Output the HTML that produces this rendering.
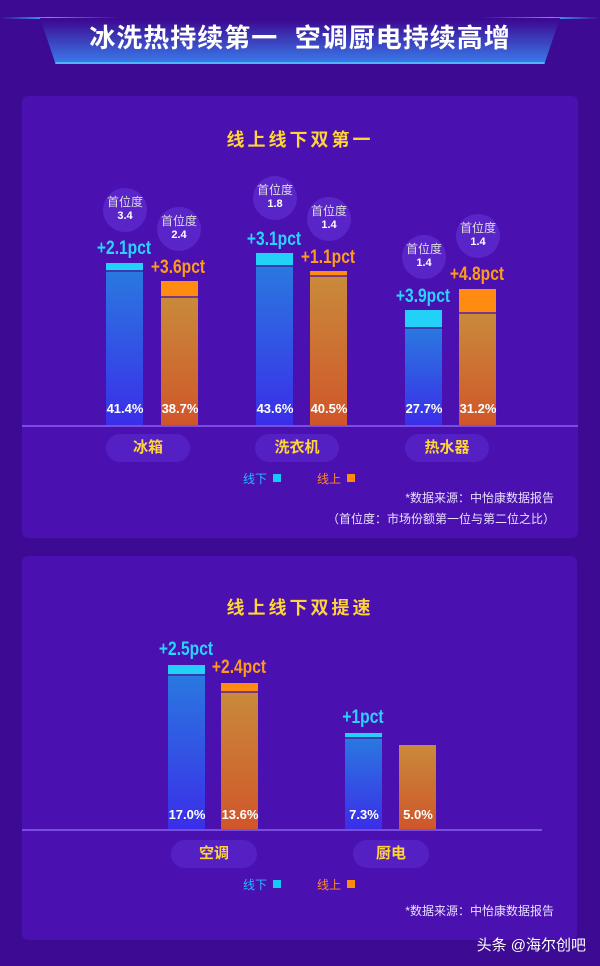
<!DOCTYPE html>
<html><head><meta charset="utf-8"><style>
*{margin:0;padding:0;box-sizing:border-box}
body{width:600px;height:966px;background:#3d0a93;position:relative;overflow:hidden;font-family:"Liberation Sans","Noto Sans CJK SC",sans-serif}
.a{position:absolute}
.card{position:absolute;background:#4a10b0;border-radius:6px}
.ttl{position:absolute;left:0;width:600px;text-align:center;color:#ffd43a;font-weight:bold;font-size:18px;letter-spacing:3px}
.bo{position:absolute;width:37px;background:linear-gradient(#2a78e0,#3a2ee8)}
.bn{position:absolute;width:37px;background:linear-gradient(#c98a3a,#d0562a)}
.co{position:absolute;width:37px;background:#22d0f8;border-bottom:2px solid #3a3ab0}
.cn{position:absolute;width:37px;background:#ff8c10;border-bottom:2px solid #7a3a80}
.v{position:absolute;width:50px;text-align:center;color:#fff;font-weight:bold;font-size:13px;letter-spacing:0}
.p{position:absolute;width:100px;text-align:center;font-weight:bold;font-size:19px;letter-spacing:0;transform:scaleX(0.82)}
.pb{color:#2ad4ff}.po{color:#ff9a1a}
.bub{position:absolute;width:44px;height:44px;border-radius:50%;background:#5a25c8;color:#ddd;font-size:12px;text-align:center;line-height:14px;padding-top:7px}
.bub b{color:#fff;font-size:11px;display:block}
.pill{position:absolute;height:28px;border-radius:14px;background:#5420c4;color:#ffd43a;font-weight:bold;font-size:15px;text-align:center;line-height:28px;width:84px}
.base{position:absolute;height:2px;background:#7a4ce0}
.lg{position:absolute;font-size:12px}
.sq{display:inline-block;width:8px;height:8px;margin-left:6px;vertical-align:1px}
.src{position:absolute;right:46px;color:#e8e0ff;font-size:12px;text-align:right}
</style></head><body>
<div class="a" style="left:0;top:17px;width:600px;height:2px;background:linear-gradient(90deg,transparent,#3aa8ff 8%,transparent 20%,transparent 80%,#3aa8ff 92%,transparent)"></div>
<div class="a" style="left:40px;top:18px;width:520px;height:46px;background:linear-gradient(#3d0a93 5%,#3a78e8);clip-path:polygon(0 0,100% 0,97% 100%,3% 100%);border-bottom:2px solid #4ab8ff"></div>
<div class="a" style="left:0;top:18px;width:600px;text-align:center;color:#fff;font-weight:bold;font-size:26px;letter-spacing:1px">冰洗热持续第一&nbsp;&nbsp;空调厨电持续高增</div>

<div class="card" style="left:22px;top:96px;width:556px;height:442px"></div>
<div class="ttl" style="top:126px">线上线下双第一</div>
<div class="base" style="left:22px;top:425px;width:556px"></div>

<div class="bub" style="left:103px;top:188px">首位度<b>3.4</b></div>
<div class="bub" style="left:157px;top:207px">首位度<b>2.4</b></div>
<div class="bub" style="left:253px;top:176px">首位度<b>1.8</b></div>
<div class="bub" style="left:307px;top:197px">首位度<b>1.4</b></div>
<div class="bub" style="left:402px;top:235px">首位度<b>1.4</b></div>
<div class="bub" style="left:456px;top:214px">首位度<b>1.4</b></div>

<div class="co" style="left:106px;top:263px;height:9px"></div><div class="bo" style="left:106px;top:272px;height:153px"></div>
<div class="cn" style="left:161px;top:281px;height:17px"></div><div class="bn" style="left:161px;top:298px;height:127px"></div>
<div class="co" style="left:256px;top:253px;height:14px"></div><div class="bo" style="left:256px;top:267px;height:158px"></div>
<div class="cn" style="left:310px;top:271px;height:6px"></div><div class="bn" style="left:310px;top:277px;height:148px"></div>
<div class="co" style="left:405px;top:310px;height:19px"></div><div class="bo" style="left:405px;top:329px;height:96px"></div>
<div class="cn" style="left:459px;top:289px;height:25px"></div><div class="bn" style="left:459px;top:314px;height:111px"></div>

<div class="p pb" style="left:74px;top:238px">+2.1pct</div>
<div class="p po" style="left:128px;top:257px">+3.6pct</div>
<div class="p pb" style="left:224px;top:229px">+3.1pct</div>
<div class="p po" style="left:278px;top:247px">+1.1pct</div>
<div class="p pb" style="left:373px;top:286px">+3.9pct</div>
<div class="p po" style="left:427px;top:264px">+4.8pct</div>

<div class="v" style="left:100px;top:401px">41.4%</div>
<div class="v" style="left:155px;top:401px">38.7%</div>
<div class="v" style="left:250px;top:401px">43.6%</div>
<div class="v" style="left:304px;top:401px">40.5%</div>
<div class="v" style="left:399px;top:401px">27.7%</div>
<div class="v" style="left:453px;top:401px">31.2%</div>

<div class="pill" style="left:106px;top:434px">冰箱</div>
<div class="pill" style="left:255px;top:434px">洗衣机</div>
<div class="pill" style="left:405px;top:434px">热水器</div>

<div class="lg" style="left:243px;top:470px;color:#2ab8ff">线下<span class="sq" style="background:#1ac8f8"></span></div>
<div class="lg" style="left:317px;top:470px;color:#ff8a2a">线上<span class="sq" style="background:#ff8a10"></span></div>
<div class="src" style="top:489px">*数据来源：中怡康数据报告</div>
<div class="src" style="top:510px;right:45px">（首位度：市场份额第一位与第二位之比）</div>

<div class="card" style="left:22px;top:556px;width:555px;height:384px"></div>
<div class="ttl" style="top:594px">线上线下双提速</div>
<div class="base" style="left:22px;top:829px;width:520px"></div>

<div class="co" style="left:168px;top:665px;height:11px"></div><div class="bo" style="left:168px;top:676px;height:153px"></div>
<div class="cn" style="left:221px;top:683px;height:10px"></div><div class="bn" style="left:221px;top:693px;height:136px"></div>
<div class="co" style="left:345px;top:733px;height:6px"></div><div class="bo" style="left:345px;top:739px;height:90px"></div>
<div class="bn" style="left:399px;top:745px;height:84px"></div>

<div class="p pb" style="left:136px;top:639px">+2.5pct</div>
<div class="p po" style="left:189px;top:657px">+2.4pct</div>
<div class="p pb" style="left:313px;top:707px">+1pct</div>

<div class="v" style="left:162px;top:807px">17.0%</div>
<div class="v" style="left:215px;top:807px">13.6%</div>
<div class="v" style="left:339px;top:807px">7.3%</div>
<div class="v" style="left:393px;top:807px">5.0%</div>

<div class="pill" style="left:171px;top:840px;width:86px">空调</div>
<div class="pill" style="left:353px;top:840px;width:76px">厨电</div>

<div class="lg" style="left:243px;top:876px;color:#2ab8ff">线下<span class="sq" style="background:#1ac8f8"></span></div>
<div class="lg" style="left:317px;top:876px;color:#ff8a2a">线上<span class="sq" style="background:#ff8a10"></span></div>
<div class="src" style="top:902px">*数据来源：中怡康数据报告</div>
<div class="a" style="right:14px;top:934px;color:#fff;font-size:15px">头条 @海尔创吧</div>
</body></html>
